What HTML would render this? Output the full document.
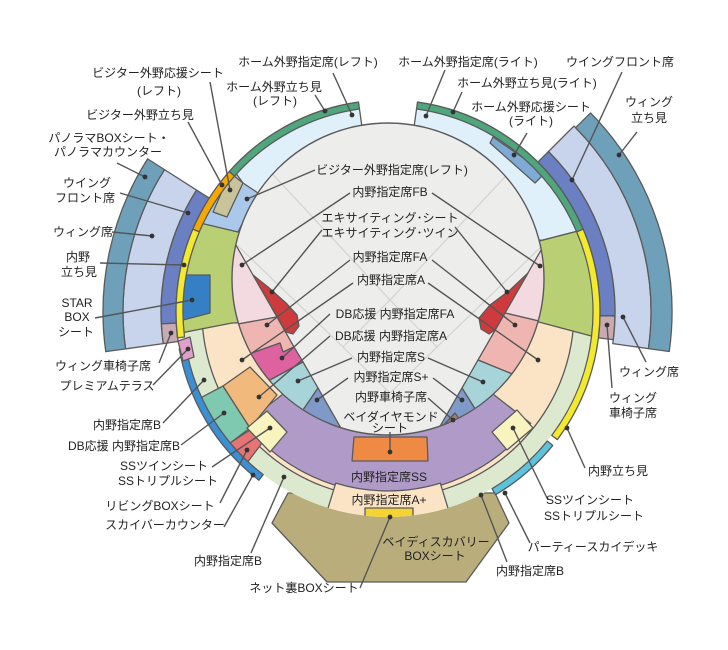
<!DOCTYPE html>
<html><head><meta charset="utf-8">
<style>
html,body{margin:0;padding:0;background:#fff;}
svg{display:block;}
text{font-family:"Liberation Sans","Noto Sans CJK JP",sans-serif;font-size:12px;fill:#222;text-anchor:middle;}
.s{stroke:#5a5a5a;stroke-width:1.3;stroke-linejoin:round;}
.ln{stroke:#555;stroke-width:1.4;fill:none;}
</style></head><body>
<svg id="svg" width="728" height="650" viewBox="0 0 728 650" xmlns="http://www.w3.org/2000/svg">
<defs>
<clipPath id="cRing"><circle cx="388" cy="312" r="205"/></clipPath>
<clipPath id="cField"><circle cx="388" cy="279" r="156"/></clipPath>
</defs>
<rect width="728" height="650" fill="#fff"/>
<g id="wings"></g>
<polygon class="s" fill="#b9ae7b" points="272,523 288,493 495,493 509,523 466,582 327,582"/>
<g id="ring" clip-path="url(#cRing)">
  <circle cx="388" cy="312" r="205" fill="#dde9cf"/>
  <g id="ringSec"></g>
  <polygon class="s" fill="#dff0fa" points="0,0 728,0 728,193 582,230 543,240 390,250 238,232 200,228 0,165"/>
  <polygon class="s" fill="#aac8ea" points="150,211 200,228 238,232 258,193 243,183 230,165 150,150"/>
  <polygon class="s" fill="#c9c39a" points="230,173 243,183 227,217 213,212"/>
  <polygon class="s" fill="#7faad6" points="493,137 545,173 535,183 490,143"/>
  <g id="ringSec2"></g>
  <polygon class="s" fill="#b8cf73" points="150,211 238,232 260,240 260,322 232,323 150,339"/>
  <polygon class="s" fill="#3580c4" points="181,275 210,275 210,313 183,320"/>
  <polygon class="s" fill="#b8cf73" points="520,246 640,215 640,349 520,317"/>
  <polygon class="s" fill="#7fc9b1" points="223,386 250,428 205,462 170,414"/>
  <polygon class="s" fill="#f2b97c" points="223,386 250,367 277,395 250,428"/>
  <polygon class="s" fill="#e67474" points="230,443 250,430 262,443 247,463 225,470"/>
  <polygon class="s" fill="#f8f3bf" points="247,428 267,411 287,432 270,452"/>
  <polygon class="s" fill="#f8f3bf" points="492,432 517,410 533,428 507,450"/>
  <polygon class="s" fill="#ef8a45" points="354,437 427,437 428,461 352,461"/>
  <polygon class="s" fill="#f5d334" points="365,508 413,508 413,520 365,520"/>
</g>
<g id="field" clip-path="url(#cField)">
  <rect x="0" y="0" width="728" height="650" fill="#ededeb"/>
  <g stroke="#d2d2d2" stroke-width="1.2" fill="none">
    <polygon points="390,300 437,347 390,393 343,347"/>
    <line x1="237" y1="245" x2="343" y2="347"/>
    <line x1="543" y1="245" x2="437" y2="347"/>
    <line x1="250" y1="150" x2="390" y2="300"/>
    <line x1="530" y1="150" x2="390" y2="300"/>
  </g>
  <polygon class="s" fill="#f3d9e0" points="100,100 153,100 277,317 238,324 100,330"/>
  <polygon class="s" fill="#efb6b1" points="100,330 238,324 277,317 294,347 283,352 280,343 252,353 100,380"/>
  <polygon class="s" fill="#df62a0" points="100,380 252,353 280,343 283,352 294,347 303,362 270,380 100,420"/>
  <polygon class="s" fill="#a7d4d9" points="100,420 270,380 303,362 318,388 303,410 100,470"/>
  <polygon class="s" fill="#7f9ac8" points="100,470 303,410 318,388 365,470"/>
  <polygon class="s" fill="#f3d9e0" points="627,100 700,100 700,330 543,322 505,313"/>
  <polygon class="s" fill="#efb6b1" points="505,313 543,322 700,340 700,395 527,380 478,360"/>
  <polygon class="s" fill="#a7d4d9" points="478,360 527,380 700,395 700,430 477,412 462,388"/>
  <polygon class="s" fill="#7f9ac8" points="462,388 477,412 600,440 600,480 415,470"/>
  <polygon class="s" fill="#cf3a3c" points="253,275 268,287 286,303 297,315 299,326 293,334 286,332"/>
  <polygon class="s" fill="#cf3a3c" points="528,273 510,290 490,305 479,318 481,329 489,334 495,330"/>
  <polygon class="s" fill="#a57c67" points="437,432 455,413 462,423 447,436"/>
</g>
<circle cx="388" cy="279" r="156" fill="none" stroke="#5a5a5a" stroke-width="1.4"/>
<g id="stripes"></g>
<polygon class="s" fill="#dfa0cc" points="178,341 190,337 194,357 183,361"/>

<g id="lines"></g>

<!-- labels -->
<text x="158" y="77">ビジター外野応援シート</text>
<text x="159" y="95">(レフト)</text>
<text x="140" y="119">ビジター外野立ち見</text>
<text x="109" y="142">パノラマBOXシート・</text>
<text x="108" y="156">パノラマカウンター</text>
<text x="87" y="187">ウイング</text>
<text x="85" y="202">フロント席</text>
<text x="83" y="236">ウィング席</text>
<text x="78" y="261">内野</text>
<text x="79" y="276">立ち見</text>
<text x="77" y="307">STAR</text>
<text x="77" y="321">BOX</text>
<text x="76" y="336">シート</text>
<text x="308" y="66">ホーム外野指定席(レフト)</text>
<text x="274" y="91">ホーム外野立ち見</text>
<text x="275" y="105">(レフト)</text>
<text x="468" y="66">ホーム外野指定席(ライト)</text>
<text x="527" y="87">ホーム外野立ち見(ライト)</text>
<text x="531" y="111">ホーム外野応援シート</text>
<text x="531" y="125">(ライト)</text>
<text x="620" y="66">ウイングフロント席</text>
<text x="649" y="106">ウィング</text>
<text x="649" y="122">立ち見</text>
<text x="392" y="174">ビジター外野指定席(レフト)</text>
<text x="390" y="196">内野指定席FB</text>
<text x="390" y="222">エキサイティング･シート</text>
<text x="390" y="237">エキサイティング･ツイン</text>
<text x="390" y="261">内野指定席FA</text>
<text x="391" y="284">内野指定席A</text>
<text x="395" y="318">DB応援 内野指定席FA</text>
<text x="391" y="340">DB応援 内野指定席A</text>
<text x="391" y="361">内野指定席S</text>
<text x="391" y="381">内野指定席S+</text>
<text x="391" y="401">内野車椅子席</text>
<text x="391" y="421">ベイダイヤモンド</text>
<text x="390" y="432">シート</text>
<text x="389" y="481">内野指定席SS</text>
<text x="389" y="504">内野指定席A+</text>
<text x="436" y="546">ベイディスカバリー</text>
<text x="435" y="560">BOXシート</text>
<text x="304" y="592">ネット裏BOXシート</text>
<text x="228" y="565">内野指定席B</text>
<text x="530" y="575">内野指定席B</text>
<text x="593" y="551">パーティースカイデッキ</text>
<text x="590" y="504">SSツインシート</text>
<text x="594" y="520">SSトリプルシート</text>
<text x="618" y="475">内野立ち見</text>
<text x="649" y="376">ウィング席</text>
<text x="633" y="402">ウィング</text>
<text x="633" y="417">車椅子席</text>
<text x="103" y="370">ウィング車椅子席</text>
<text x="107" y="390">プレミアムテラス</text>
<text x="127" y="429">内野指定席B</text>
<text x="124" y="450">DB応援 内野指定席B</text>
<text x="164" y="470">SSツインシート</text>
<text x="168" y="485">SSトリプルシート</text>
<text x="160" y="510">リビングBOXシート</text>
<text x="165" y="529">スカイバーカウンター</text>
</svg>
<script>
(function(){
var NS="http://www.w3.org/2000/svg";
function P(r,t,cx,cy){cx=cx||388;cy=cy||312;t=t*Math.PI/180;return (cx+r*Math.sin(t)).toFixed(2)+" "+(cy-r*Math.cos(t)).toFixed(2);}
function ann(g,r1,r2,t1,t2,f){
  var L=(t2-t1)>180?1:0,d;
  if(r1===0){d="M388 312 L"+P(r2,t1)+" A"+r2+" "+r2+" 0 "+L+" 1 "+P(r2,t2)+" Z";}
  else{d="M"+P(r2,t1)+" A"+r2+" "+r2+" 0 "+L+" 1 "+P(r2,t2)+" L"+P(r1,t2)+" A"+r1+" "+r1+" 0 "+L+" 0 "+P(r1,t1)+" Z";}
  var p=document.createElementNS(NS,"path");p.setAttribute("d",d);p.setAttribute("fill",f);
  p.setAttribute("class","s");document.getElementById(g).appendChild(p);
}
var blue="#6a80c2",lav="#c8d3ec",steel="#6fa0b9",wc="#c8aab3";
// wings
ann("wings",212,227,-93,-57.5,blue);ann("wings",212,227,-98,-93,wc);
ann("wings",227,265,-98,-57.5,lav);ann("wings",265,285,-98,-57.5,steel);
ann("wings",212,227,45,91,blue);ann("wings",212,227,91,97,wc);
ann("wings",227,263,45,98,lav);ann("wings",263,284,45.5,98,steel);
// ring base sectors
ann("ringSec",0,186,60,300,"#fbe4c6");
// top gap white
ann("ringSec2",150,215,-8,8,"#ffffff");
ann("ringSec2",0,181,128,232,"#b09bc8");
ann("ringSec2",179,210,163,197,"#fbe4c6");
// stripes
ann("stripes",205,212,-48.5,-8,"#4fa57c");ann("stripes",205,212,8,67,"#4fa57c");
ann("stripes",205,212,-67,-48.5,"#f5a800");ann("stripes",205,212,-97,-67,"#f3e92e");
ann("stripes",205,212,-142.5,-100,"#3b8fd4");
ann("stripes",205,212,67,127,"#f3e92e");ann("stripes",205,212,129,149.5,"#5bc3de");
// lines
var L=[
[210,82,230,190],[188,122,222,185],[117,163,145,177],[120,193,188,213],[112,232,152,236],
[100,263,184,265],[95,318,192,300],[333,73,352,115],[315,95,325,111],
[445,70,426,116],[462,92,453,112],[527,133,514,155],[622,72,572,180],[637,132,619,155],
[315,170,247,199],[350,193,242,265],[432,193,540,266],[322,230,272,292],[455,227,507,292],
[350,260,267,325],[432,260,515,325],[353,283,242,360],[428,283,538,360],
[330,314,282,358],[330,336,259,397],[352,358,298,381],[428,358,483,382],
[348,378,317,400],[433,378,462,400],[428,398,453,420],[390,432,390,452],
[360,588,390,517],[507,562,481,495],[530,543,505,493],[548,500,513,428],[585,468,567,428],
[612,388,607,325],[646,362,623,317],
[159,363,171,333],[153,385,188,349],[163,423,204,380],[181,445,224,413],[212,467,270,428],
[220,503,247,450],[224,527,253,475],[251,553,284,477]
];
var g=document.getElementById("lines");
L.forEach(function(a){
  var l=document.createElementNS(NS,"line");
  l.setAttribute("x1",a[0]);l.setAttribute("y1",a[1]);l.setAttribute("x2",a[2]);l.setAttribute("y2",a[3]);
  l.setAttribute("class","ln");g.appendChild(l);
  var c=document.createElementNS(NS,"circle");c.setAttribute("cx",a[2]);c.setAttribute("cy",a[3]);
  c.setAttribute("r","2.4");c.setAttribute("fill","#333");g.appendChild(c);
});
})();
</script>
</body></html>
